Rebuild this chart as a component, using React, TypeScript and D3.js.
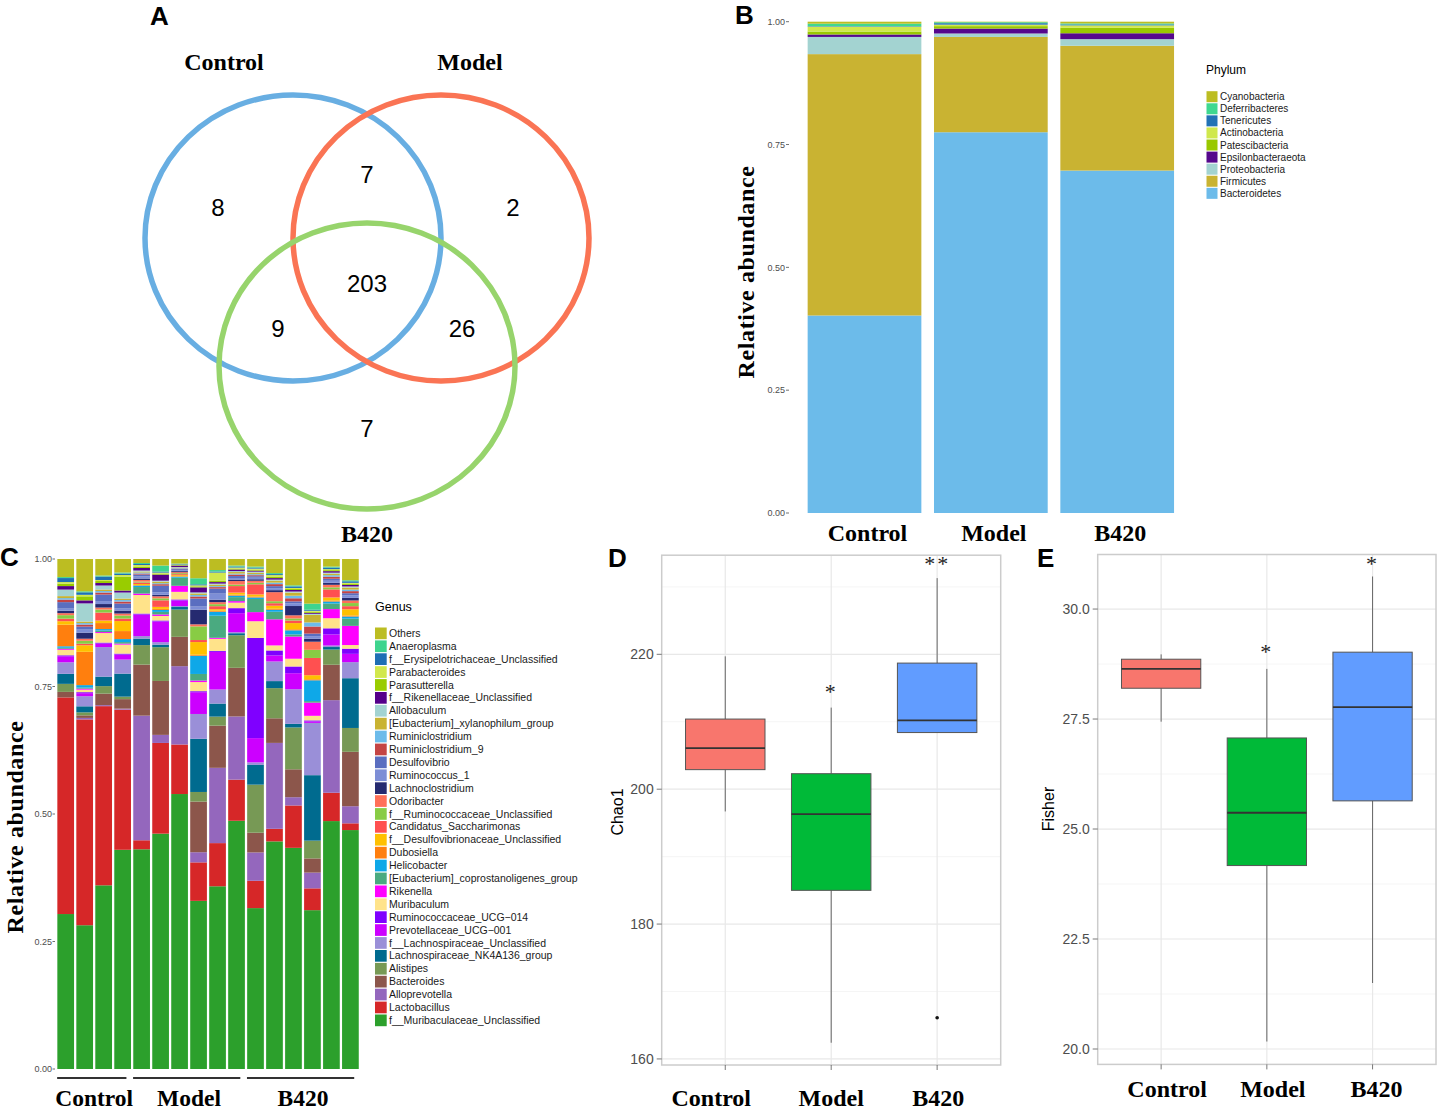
import React from 'react';
import * as d3 from 'd3';

const SERIF = '"Liberation Serif","Times New Roman",serif';
const SANS = '"Liberation Sans",Arial,Helvetica,sans-serif';

// ---------------- Panel A : Venn ----------------
const vennSetNames = ['Control', 'Model', 'B420'];
const vennColors = ['#68aee2', '#fa7454', '#97d46c'];
const vennRegionKeys = ['C', 'CM', 'M', 'CMB', 'CB', 'MB', 'B'];
const vennCounts = [8, 7, 2, 203, 9, 26, 7];

// ---------------- Panel B : Phylum ----------------
const phylumGroups = ['Control', 'Model', 'B420'];
const phylumNames = ['Bacteroidetes', 'Firmicutes', 'Proteobacteria', 'Epsilonbacteraeota', 'Patescibacteria', 'Actinobacteria', 'Tenericutes', 'Deferribacteres', 'Cyanobacteria'];
const phylumColors = ['#6cbbea', '#c9b332', '#a3d3d1', '#55088c', '#99c800', '#d0e84c', '#2272b5', '#3fd890', '#bcbd22'];
const bacteroidetes = [0.402, 0.775, 0.697];
const firmicutes = [0.532, 0.194, 0.254];
const proteobacteria = [0.035, 0.007, 0.0135];
const epsilonbacteraeota = [0.005, 0.010, 0.012];
const patescibacteria = [0.006, 0.005, 0.011];
const actinobacteria = [0.010, 0.003, 0.005];
const tenericutes = [0.001, 0.003, 0.002];
const deferribacteres = [0.005, 0.002, 0.002];
const cyanobacteria = [0.004, 0.001, 0.0035];
const phylumSeries = [bacteroidetes, firmicutes, proteobacteria, epsilonbacteraeota, patescibacteria, actinobacteria, tenericutes, deferribacteres, cyanobacteria];
const abundanceTicks = [0, 0.25, 0.5, 0.75, 1];

// ---------------- Panel C : Genus ----------------
const sampleGroups = ['Control', 'Control', 'Control', 'Control', 'Model', 'Model', 'Model', 'Model', 'Model', 'Model', 'B420', 'B420', 'B420', 'B420', 'B420', 'B420'];
const genusNames = [
  'f__Muribaculaceae_Unclassified', 'Lactobacillus', 'Alloprevotella', 'Bacteroides', 'Alistipes',
  'Lachnospiraceae_NK4A136_group', 'f__Lachnospiraceae_Unclassified', 'Prevotellaceae_UCG\u2212001', 'Ruminococcaceae_UCG\u2212014',
  'Muribaculum', 'Rikenella', '[Eubacterium]_coprostanoligenes_group', 'Helicobacter', 'Dubosiella',
  'f__Desulfovibrionaceae_Unclassified', 'Candidatus_Saccharimonas', 'f__Ruminococcaceae_Unclassified', 'Odoribacter',
  'Lachnoclostridium', 'Ruminococcus_1', 'Desulfovibrio', 'Ruminiclostridium_9', 'Ruminiclostridium',
  '[Eubacterium]_xylanophilum_group', 'Allobaculum', 'f__Rikenellaceae_Unclassified', 'Parasutterella',
  'Parabacteroides', 'f__Erysipelotrichaceae_Unclassified', 'Anaeroplasma', 'Others'];
const genusColors = [
  '#2ca02c', '#d62728', '#9467bd', '#8c564b', '#779955',
  '#006b8f', '#9a8fd8', '#cc00ff', '#7f00ff',
  '#ffe38a', '#ff00ff', '#4aaa80', '#0ea8e8', '#ff7f0e',
  '#ffc000', '#ff5050', '#88cc44', '#ff7058',
  '#252a70', '#7d8ed6', '#5a6ec0', '#c44444', '#6cbbea',
  '#c9b332', '#a3d3d1', '#55008a', '#99cc00',
  '#d2e84c', '#1f6fb4', '#3ed48e', '#bcbd22'];
const muribaculaceaeUncl = [.309, .285, .367, .438, .439, .467, .544, .332, .364, .495, .318, .453, .428, .313, .490, .461];
const lactobacillus = [.432, .408, .358, .280, .018, .180, .098, .076, .086, .082, .054, .025, .082, .043, .056, .013];
const alloprevotella = [0, .003, .002, .002, .249, .016, .155, .020, .150, .126, .056, .171, .016, .031, .183, .033];
const bacteroides = [.011, .005, .023, .019, .102, .107, .058, .100, .084, .097, .039, .049, .054, .028, .070, .105];
const alistipes = [.016, .006, .015, .005, .039, .067, .054, .019, .018, .065, .095, .060, .081, .035, .030, .046];
const nk4a136 = [.020, .012, .019, .046, .013, .005, .005, .105, .026, .004, .039, .014, .007, .129, .005, .096];
const lachnospiraceaeUncl = [.023, .020, .059, .028, .005, .005, .002, .049, .028, .002, .005, .039, .067, .103, .003, .031];
const prevotellaceaeUCG001 = [.012, .006, .007, .010, .043, .041, .011, .043, .075, .038, .048, .012, .031, .003, .022, .016];
const ruminococcaceaeUCG014 = [.002, .002, .002, .002, .002, .002, .002, .002, .002, .010, .198, .010, .013, .002, .012, .010];
const muribaculum = [.011, .005, .019, .018, .037, .009, .015, .018, .024, .011, .033, .010, .015, .009, .020, .007];
const rikenella = [.002, .002, .002, .002, .003, .003, .012, .003, .002, .003, .018, .052, .043, .026, .018, .037];
const eubCoprostanoligenes = [.002, .002, .003, .003, .013, .005, .016, .013, .044, .008, .026, .015, .004, .003, .011, .014];
const helicobacter = [.003, .005, .003, .006, .003, .004, .002, .036, .008, .003, .003, .004, .008, .041, .004, .004];
const dubosiella = [.043, .066, .012, .016, .001, .002, .001, .002, .002, .002, .002, .002, .002, .002, .002, .002];
const desulfovibrionaceaeUncl = [.007, .013, .005, .020, .002, .004, .002, .025, .003, .004, .004, .006, .012, .008, .006, .012];
const saccharimonas = [.005, .003, .016, .005, .003, .013, .002, .004, .006, .013, .020, .005, .005, .034, .016, .006];
const ruminococcaceaeUncl = [.007, .006, .006, .006, .002, .004, .002, .027, .004, .003, .003, .004, .004, .016, .004, .006];
const odoribacter = [.004, .004, .004, .004, .003, .004, .002, .004, .004, .007, .004, .018, .006, .016, .005, .005];
const lachnoclostridium = [.005, .012, .007, .006, .003, .003, .002, .029, .005, .003, .003, .004, .018, .006, .004, .005];
const ruminococcus1 = [.004, .006, .006, .004, .004, .005, .002, .006, .012, .003, .003, .004, .005, .005, .004, .005];
const desulfovibrio = [.013, .006, .013, .010, .004, .013, .002, .016, .010, .004, .003, .004, .004, .005, .004, .004];
const ruminiclostridium9 = [.005, .004, .004, .004, .002, .003, .001, .004, .003, .003, .002, .004, .006, .014, .004, .004];
const ruminiclostridium = [.003, .003, .003, .003, .002, .002, .001, .003, .002, .002, .002, .003, .005, .008, .003, .003];
const eubXylanophilum = [.004, .003, .003, .003, .002, .003, .001, .003, .003, .003, .003, .004, .006, .015, .003, .004];
const allobaculum = [.013, .036, .008, .012, .002, .002, .001, .002, .002, .002, .002, .002, .002, .002, .002, .002];
const rikenellaceaeUncl = [.007, .006, .005, .004, .005, .012, .003, .010, .003, .003, .002, .003, .003, .002, .003, .003];
const parasutterella = [.005, .008, .004, .028, .003, .002, .001, .002, .003, .002, .002, .003, .002, .002, .002, .002];
const parabacteroides = [.003, .003, .002, .003, .003, .002, .001, .002, .016, .002, .002, .003, .002, .002, .002, .002];
const erysipelotrichaceaeUncl = [.008, .005, .007, .003, .002, .002, .001, .002, .002, .002, .002, .002, .003, .002, .003, .003];
const anaeroplasma = [.002, .002, .002, .002, .002, .012, .001, .012, .003, .002, .002, .002, .002, .012, .002, .002];
const others = [.036, .064, .033, .027, .008, .013, .009, .038, .022, .013, .015, .028, .051, .088, .015, .041];
const genusSeries = [
  muribaculaceaeUncl, lactobacillus, alloprevotella, bacteroides, alistipes, nk4a136, lachnospiraceaeUncl,
  prevotellaceaeUCG001, ruminococcaceaeUCG014, muribaculum, rikenella, eubCoprostanoligenes, helicobacter, dubosiella,
  desulfovibrionaceaeUncl, saccharimonas, ruminococcaceaeUncl, odoribacter, lachnoclostridium, ruminococcus1,
  desulfovibrio, ruminiclostridium9, ruminiclostridium, eubXylanophilum, allobaculum, rikenellaceaeUncl,
  parasutterella, parabacteroides, erysipelotrichaceaeUncl, anaeroplasma, others];

// ---------------- Panels D / E : boxplots ----------------
const boxGroups = ['Control', 'Model', 'B420'];
const boxColors = ['#F8766D', '#00BA38', '#619CFF'];
const chaoLow = [196.7, 162.4, 208.4];
const chaoQ1 = [202.9, 185.0, 208.4];
const chaoMedian = [206.1, 196.3, 210.2];
const chaoQ3 = [210.4, 202.3, 218.7];
const chaoHigh = [219.7, 212.1, 231.3];
const chaoOutliers = [[], [], [166.1]];
const chaoStars = ['', '*', '**'];
const chaoStarAt = [0, 214.8, 233.8];
const chaoTicks = [160, 180, 200, 220];
const chaoMinor = [170, 190, 210, 230];

const fisherLow = [27.44, 20.17, 21.50];
const fisherQ1 = [28.20, 24.17, 25.64];
const fisherMedian = [28.64, 25.37, 27.77];
const fisherQ3 = [28.86, 27.07, 29.02];
const fisherHigh = [28.97, 28.64, 30.74];
const fisherOutliers = [[], [], []];
const fisherStars = ['', '*', '*'];
const fisherStarAt = [0, 29.09, 31.09];
const fisherTicks = [20, 22.5, 25, 27.5, 30];
const fisherMinor = [21.25, 23.75, 26.25, 28.75];

// ---------------- Components ----------------
function PanelLetter({ t, x, y }: { t: string; x: number; y: number }) {
  return <text x={x} y={y} fontFamily={SANS} fontWeight="bold" fontSize={26}>{t}</text>;
}

function PanelA() {
  const L = { cx: 367, cy: 238, dx: 74, dy: 128, rx: 148, ry: 143 };
  const centers = [[L.cx - L.dx, L.cy], [L.cx + L.dx, L.cy], [L.cx, L.cy + L.dy]];
  const labelPos: Record<string, [number, number]> = {
    C: [L.cx - 149, L.cy - 31], CM: [L.cx, L.cy - 64], M: [L.cx + 146, L.cy - 31],
    CMB: [L.cx, L.cy + 45], CB: [L.cx - 89, L.cy + 90], MB: [L.cx + 95, L.cy + 90], B: [L.cx, L.cy + 190],
  };
  const namePos: [number, number][] = [[224, 70], [470, 70], [L.cx, 542]];
  return (
    <g>
      {centers.map((c, i) => (
        <ellipse key={i} cx={c[0]} cy={c[1]} rx={L.rx} ry={L.ry} fill="none" stroke={vennColors[i]} strokeWidth={5.5} />
      ))}
      {vennRegionKeys.map((k, i) => (
        <text key={k} x={labelPos[k][0]} y={labelPos[k][1]} dy="0.36em" textAnchor="middle" fontFamily={SANS} fontSize={24}>{vennCounts[i]}</text>
      ))}
      {vennSetNames.map((n, i) => (
        <text key={n} x={namePos[i][0]} y={namePos[i][1]} textAnchor="middle" fontFamily={SERIF} fontWeight="bold" fontSize={24}>{n}</text>
      ))}
      <PanelLetter t="A" x={150} y={25} />
    </g>
  );
}

function PanelB() {
  const rows = phylumGroups.map((g, i) => {
    const r: any = { group: g };
    phylumNames.forEach((n, j) => { r[n] = phylumSeries[j][i]; });
    return r;
  });
  const stack = d3.stack<any>().keys(phylumNames).offset(d3.stackOffsetExpand)(rows);
  const x = d3.scaleLinear().domain([0.4, 3.6]).range([788.7, 1193]);
  const y = d3.scaleLinear().domain([0, 1]).range([513, 21.7]);
  const bw = 0.9;
  const legendNames = phylumNames.slice().reverse();
  const legendColors = phylumColors.slice().reverse();
  return (
    <g>
      {stack.map((s, j) => (
        <g key={s.key} fill={phylumColors[j]}>
          {s.map((d, i) => (
            <rect key={i} x={x(i + 1 - bw / 2)} width={x(bw) - x(0)} y={y(d[1])} height={y(d[0]) - y(d[1])} />
          ))}
        </g>
      ))}
      {abundanceTicks.map(t => (
        <g key={t}>
          <text x={785} y={y(t)} dy="0.35em" textAnchor="end" fontFamily={SANS} fontSize={9} fill="#4d4d4d">{d3.format('.2f')(t)}</text>
          <line x1={786} x2={789} y1={y(t)} y2={y(t)} stroke="#4d4d4d" strokeWidth={0.8} />
        </g>
      ))}
      {phylumGroups.map((g, i) => (
        <text key={g} x={x(i + 1) + 3} y={541} textAnchor="middle" fontFamily={SERIF} fontWeight="bold" fontSize={24}>{g}</text>
      ))}
      <text transform="translate(754,272) rotate(-90)" textAnchor="middle" fontFamily={SERIF} fontWeight="bold" fontSize={24} letterSpacing={0.6}>Relative abundance</text>
      <text x={1206} y={73.5} fontFamily={SANS} fontSize={12}>Phylum</text>
      {legendNames.map((n, i) => {
        const cy = 96.7 + i * 12.08;
        return (
          <g key={n}>
            <rect x={1206.5} y={cy - 5.5} width={11} height={11} fill={legendColors[i]} />
            <text x={1220} y={cy} dy="0.35em" fontFamily={SANS} fontSize={10} fill="#1a1a1a">{n}</text>
          </g>
        );
      })}
      <PanelLetter t="B" x={735} y={24} />
    </g>
  );
}

function PanelC() {
  const rows = sampleGroups.map((g, i) => {
    const r: any = { group: g };
    genusNames.forEach((n, j) => { r[n] = genusSeries[j][i]; });
    return r;
  });
  const stack = d3.stack<any>().keys(genusNames).offset(d3.stackOffsetExpand)(rows);
  const n = sampleGroups.length;
  const x = d3.scaleLinear().domain([0.4, n + 0.6]).range([54.3, 361.8]);
  const y = d3.scaleLinear().domain([0, 1]).range([1069, 559]);
  const bw = 0.88;
  const groupNames = Array.from(new Set(sampleGroups));
  const legendNames = genusNames.slice().reverse();
  const legendColors = genusColors.slice().reverse();
  return (
    <g>
      {stack.map((s, j) => (
        <g key={s.key} fill={genusColors[j]}>
          {s.map((d, i) => (
            <rect key={i} x={x(i + 1 - bw / 2)} width={x(bw) - x(0)} y={y(d[1])} height={Math.max(0, y(d[0]) - y(d[1]))} />
          ))}
        </g>
      ))}
      {abundanceTicks.map(t => (
        <g key={t}>
          <text x={52} y={y(t)} dy="0.35em" textAnchor="end" fontFamily={SANS} fontSize={9} fill="#4d4d4d">{d3.format('.2f')(t)}</text>
          <line x1={52.5} x2={55} y1={y(t)} y2={y(t)} stroke="#4d4d4d" strokeWidth={0.8} />
        </g>
      ))}
      {groupNames.map(g => {
        const idx = sampleGroups.map((s, i) => (s === g ? i + 1 : -1)).filter(v => v > 0);
        const first = idx[0], last = idx[idx.length - 1];
        return (
          <g key={g}>
            <line x1={x(first - 0.45)} x2={x(last + 0.2)} y1={1078} y2={1078} stroke="#333" strokeWidth={2} />
            <text x={x((first + last) / 2)} y={1106} textAnchor="middle" fontFamily={SERIF} fontWeight="bold" fontSize={23.5}>{g}</text>
          </g>
        );
      })}
      <text transform="translate(23,827) rotate(-90)" textAnchor="middle" fontFamily={SERIF} fontWeight="bold" fontSize={24} letterSpacing={0.6}>Relative abundance</text>
      <text x={375} y={611} fontFamily={SANS} fontSize={12.5}>Genus</text>
      {legendNames.map((nm, i) => {
        const cy = 633.3 + i * 12.9;
        return (
          <g key={nm}>
            <rect x={375} y={cy - 5.8} width={11.7} height={11.7} fill={legendColors[i]} />
            <text x={389} y={cy} dy="0.35em" fontFamily={SANS} fontSize={10.5} fill="#1a1a1a">{nm}</text>
          </g>
        );
      })}
      <PanelLetter t="C" x={0} y={566} />
    </g>
  );
}

type BoxProps = {
  letter: string; letterX: number;
  left: number; right: number; top: number; bottom: number;
  domain: [number, number]; ticks: number[]; minor: number[]; fmt: string;
  low: number[]; q1: number[]; med: number[]; q3: number[]; high: number[]; outliers: number[][];
  stars: string[]; starAt: number[];
  yLabel: string; yLabelX: number; yLabelY: number;
  labelOffsets: number[]; labelBaseline: number;
};

function BoxPanel(p: BoxProps) {
  const x = d3.scaleLinear().domain([0.4, 3.6]).range([p.left, p.right]);
  const y = d3.scaleLinear().domain(p.domain).range([p.bottom, p.top]);
  const hw = 0.375;
  const fmt = d3.format(p.fmt);
  return (
    <g>
      <rect x={p.left} y={p.top} width={p.right - p.left} height={p.bottom - p.top} fill="#fff" />
      {p.minor.map(v => (
        <line key={'m' + v} x1={p.left} x2={p.right} y1={y(v)} y2={y(v)} stroke="#f3f3f3" strokeWidth={0.8} />
      ))}
      {p.ticks.map(v => (
        <line key={'t' + v} x1={p.left} x2={p.right} y1={y(v)} y2={y(v)} stroke="#e8e8e8" strokeWidth={1.2} />
      ))}
      {boxGroups.map((g, i) => (
        <line key={'v' + g} x1={x(i + 1)} x2={x(i + 1)} y1={p.top} y2={p.bottom} stroke="#e8e8e8" strokeWidth={1.2} />
      ))}
      {boxGroups.map((g, i) => {
        const cx = x(i + 1);
        return (
          <g key={g}>
            <line x1={cx} x2={cx} y1={y(p.high[i])} y2={y(p.q3[i])} stroke="#666" strokeWidth={1} />
            <line x1={cx} x2={cx} y1={y(p.q1[i])} y2={y(p.low[i])} stroke="#666" strokeWidth={1} />
            <rect x={x(i + 1 - hw)} width={x(hw * 2) - x(0)} y={y(p.q3[i])} height={y(p.q1[i]) - y(p.q3[i])}
              fill={boxColors[i]} stroke="#555" strokeWidth={1} />
            <line x1={x(i + 1 - hw)} x2={x(i + 1 + hw)} y1={y(p.med[i])} y2={y(p.med[i])} stroke="#333" strokeWidth={1.8} />
            {p.outliers[i].map((o, k) => <circle key={k} cx={cx} cy={y(o)} r={1.8} fill="#111" />)}
            {p.stars[i] && (
              <text x={cx} y={y(p.starAt[i]) + 10} textAnchor="middle" fontFamily={SERIF} fontSize={22} letterSpacing={2} fill="#222">{p.stars[i]}</text>
            )}
          </g>
        );
      })}
      <rect x={p.left} y={p.top} width={p.right - p.left} height={p.bottom - p.top} fill="none" stroke="#cccccc" strokeWidth={1.5} />
      {p.ticks.map(v => (
        <g key={'l' + v}>
          <line x1={p.left - 5} x2={p.left} y1={y(v)} y2={y(v)} stroke="#555" strokeWidth={0.8} />
          <text x={p.left - 8} y={y(v)} dy="0.35em" textAnchor="end" fontFamily={SANS} fontSize={14} fill="#4d4d4d">{fmt(v)}</text>
        </g>
      ))}
      {boxGroups.map((g, i) => (
        <g key={'x' + g}>
          <line x1={x(i + 1)} x2={x(i + 1)} y1={p.bottom} y2={p.bottom + 5} stroke="#555" strokeWidth={0.8} />
          <text x={x(i + 1) + p.labelOffsets[i]} y={p.labelBaseline} textAnchor="middle" fontFamily={SERIF} fontWeight="bold" fontSize={24}>{g}</text>
        </g>
      ))}
      <text transform={`translate(${p.yLabelX},${p.yLabelY}) rotate(-90)`} textAnchor="middle" fontFamily={SANS} fontSize={16}>{p.yLabel}</text>
      <PanelLetter t={p.letter} x={p.letterX} y={567} />
    </g>
  );
}

export default function App() {
  return (
    <svg width={1439} height={1110} style={{ position: 'absolute', left: 0, top: 0, background: '#fff' }}>
      <rect width={1439} height={1110} fill="#fff" />
      <PanelA />
      <PanelB />
      <PanelC />
      <BoxPanel letter="D" letterX={608} left={661.7} right={1000.7} top={555.2} bottom={1065}
        domain={[159.1, 234.7]} ticks={chaoTicks} minor={chaoMinor} fmt="d"
        low={chaoLow} q1={chaoQ1} med={chaoMedian} q3={chaoQ3} high={chaoHigh} outliers={chaoOutliers}
        stars={chaoStars} starAt={chaoStarAt} yLabel="Chao1" yLabelX={623} yLabelY={812}
        labelOffsets={[-14, 0, 1]} labelBaseline={1106} />
      <BoxPanel letter="E" letterX={1037} left={1097.7} right={1436} top={554.5} bottom={1064.4}
        domain={[19.65, 31.24]} ticks={fisherTicks} minor={fisherMinor} fmt=".1f"
        low={fisherLow} q1={fisherQ1} med={fisherMedian} q3={fisherQ3} high={fisherHigh} outliers={fisherOutliers}
        stars={fisherStars} starAt={fisherStarAt} yLabel="Fisher" yLabelX={1054} yLabelY={809}
        labelOffsets={[6, 6, 4]} labelBaseline={1097} />
    </svg>
  );
}
